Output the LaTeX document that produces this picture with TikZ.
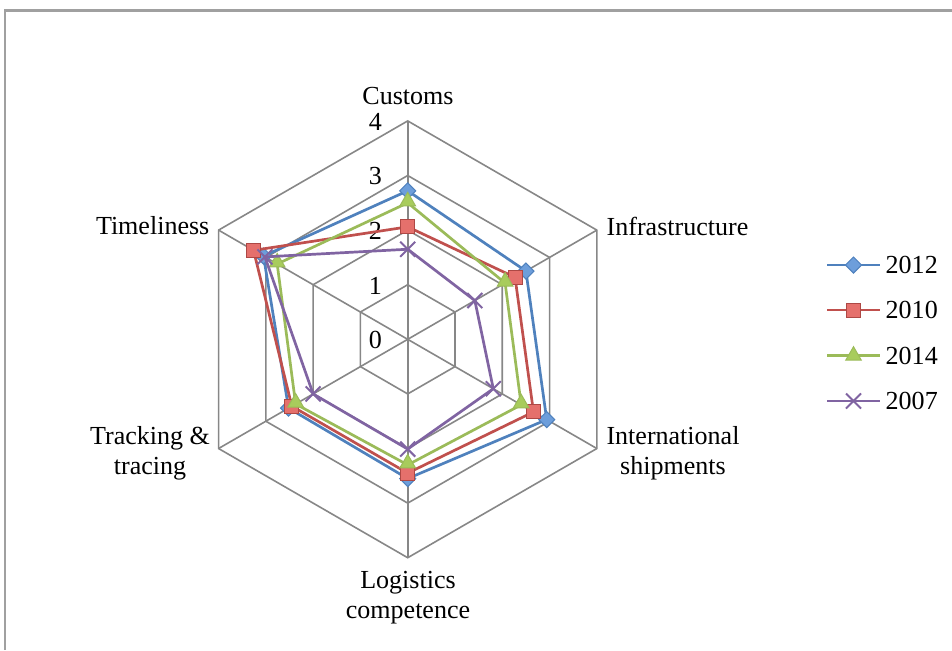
\documentclass[tikz,border=0pt]{standalone}
\usepackage{fontspec}
\setmainfont{Liberation Serif}
\usetikzlibrary{shapes.geometric,shapes.misc}
\definecolor{cblue}{HTML}{4F81BD}
\definecolor{cred}{HTML}{C0504D}
\definecolor{cgreen}{HTML}{9BBB59}
\definecolor{cpurple}{HTML}{8064A2}
\definecolor{cgrid}{HTML}{878787}
\definecolor{cframe}{HTML}{A0A0A0}
\definecolor{fblue}{HTML}{6D9EDB}
\definecolor{fred}{HTML}{E5706C}
\definecolor{fgreen}{HTML}{A8CC5C}
\tikzset{
  gridline/.style={draw=cgrid,line width=0.016cm},
  serline/.style={line width=0.027cm,line join=round},
  lbl/.style={font=\fontsize{7.4pt}{8.55pt}\selectfont,inner sep=0pt,align=center},
  mkdia/.style={diamond,draw=cblue,fill=fblue,line width=0.01cm,minimum size=0.165cm,inner sep=0pt},
  mksq/.style={rectangle,draw=cred!90!black,fill=fred,line width=0.01cm,minimum size=0.14cm,inner sep=0pt},
  mktri/.style={regular polygon,regular polygon sides=3,draw=cgreen,fill=fgreen,line width=0.01cm,minimum size=0.18cm,inner sep=0pt},
  mkx/.style={cross out,draw=cpurple,line width=0.02cm,minimum size=0.13cm,inner sep=0pt},
}
\begin{document}
\begin{tikzpicture}[x=0.01cm,y=0.01cm]
\useasboundingbox (0,0) rectangle (952,-650);
% frame
\coordinate (f1) at (5,-650);
\coordinate (f2) at (5,-10.5);
\coordinate (f3) at (952,-10.5);
\draw[draw=cframe,line width=0.025cm] (f1) -- (f2) -- (f3);
\def\U{54.6}
\begin{scope}[shift={(407.7,-339.3)}]
  \coordinate (O) at (0,0);
  % grid
  \foreach \r in {1,2,3,4} {
    \foreach \k in {1,...,6} \coordinate (g\r-\k) at ({cos(90-60*(\k-1))*\r*\U},{sin(90-60*(\k-1))*\r*\U});
    \draw[gridline] (g\r-1) -- (g\r-2) -- (g\r-3) -- (g\r-4) -- (g\r-5) -- (g\r-6) -- cycle;
  }
  \foreach \k in {1,...,6} \draw[gridline] (O) -- (g4-\k);
  % value labels
  \foreach \r in {0,1,2,3,4} \node[lbl,anchor=east] (v\r) at (-25,{\r*\U-0.8}) {\r};
  % data coordinates
  \foreach \v [count=\i] in {2.72,2.50,2.94,2.55,2.52,3.05}
    \coordinate (a\i) at ({cos(90-60*(\i-1))*\v*\U},{sin(90-60*(\i-1))*\v*\U});
  \foreach \v [count=\i] in {2.06,2.27,2.66,2.45,2.45,3.26}
    \coordinate (b\i) at ({cos(90-60*(\i-1))*\v*\U},{sin(90-60*(\i-1))*\v*\U});
  \foreach \v [count=\i] in {2.50,2.06,2.40,2.30,2.37,2.76}
    \coordinate (c\i) at ({cos(90-60*(\i-1))*\v*\U},{sin(90-60*(\i-1))*\v*\U});
  \foreach \v [count=\i] in {1.65,1.42,1.81,2.01,2.00,3.02}
    \coordinate (d\i) at ({cos(90-60*(\i-1))*\v*\U},{sin(90-60*(\i-1))*\v*\U});
  % series
  \draw[serline,cblue] (a1)--(a2)--(a3)--(a4)--(a5)--(a6)--cycle;
  \foreach \i in {1,...,6} \node[mkdia] (ma\i) at (a\i) {};
  \draw[serline,cred] (b1)--(b2)--(b3)--(b4)--(b5)--(b6)--cycle;
  \foreach \i in {1,...,6} \node[mksq] (mb\i) at (b\i) {};
  \draw[serline,cgreen] (c1)--(c2)--(c3)--(c4)--(c5)--(c6)--cycle;
  \foreach \i in {1,...,6} \node[mktri,yshift=0.015cm] (mc\i) at (c\i) {};
  \draw[serline,cpurple] (d1)--(d2)--(d3)--(d4)--(d5)--(d6)--cycle;
  \foreach \i in {1,...,6} \node[mkx] (md\i) at (d\i) {};
\end{scope}
% axis labels
\node[lbl] (lcus) at (408,-96) {Customs};
\node[lbl,anchor=west] (linf) at (606,-226) {Infrastructure};
\node[lbl] (lint) at (673,-453) {International\\shipments};
\node[lbl] (llog) at (408,-598) {Logistics\\competence};
\node[lbl] (ltrk) at (150,-453) {Tracking \&\\tracing};
\node[lbl,anchor=east] (ltim) at (210,-226) {Timeliness};
% legend
\foreach \y/\st/\col/\yr/\nm in {265/mkdia/cblue/2012/la,310/mksq/cred/2010/lb,355.7/mktri/cgreen/2014/lc,401/mkx/cpurple/2007/ld} {
  \coordinate (\nm s) at (827,-\y);
  \coordinate (\nm e) at (880,-\y);
  \draw[serline,\col] (\nm s) -- (\nm e);
  \node[\st] (\nm m) at (853.5,-\y) {};
  \node[lbl,anchor=west] (\nm t) at (885,-\y) {\yr};
}
\end{tikzpicture}
\end{document}
